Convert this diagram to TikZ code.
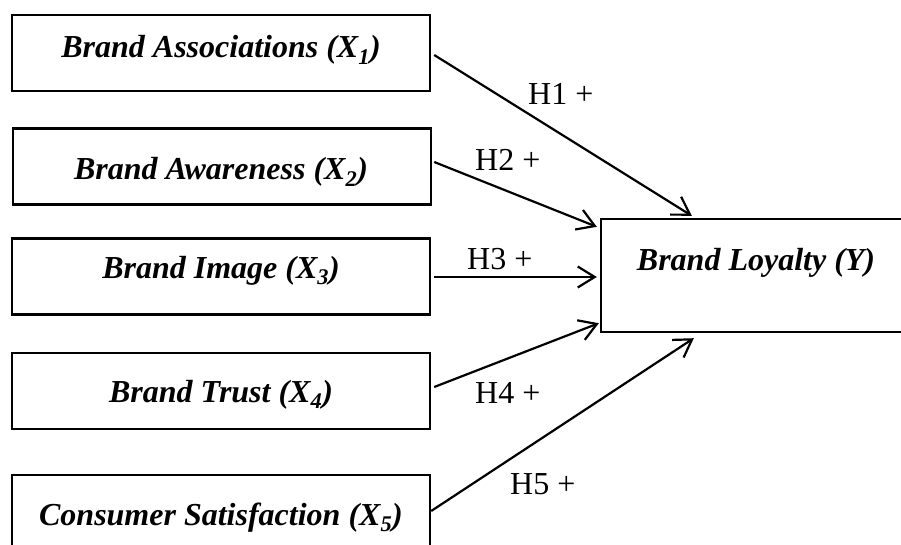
\documentclass[tikz,border=0pt]{standalone}
\usepackage{fontspec}
\setmainfont{Liberation Serif}
\usetikzlibrary{arrows.meta,calc}
\tikzset{
  box/.style={draw, line width=2.4pt, rectangle, inner sep=0pt, minimum width=418pt, minimum height=76pt},
  bigbox/.style={draw, line width=2.4pt, rectangle, inner sep=0pt, minimum width=310pt, minimum height=113pt},
  boxtext/.style={anchor=base, inner sep=0pt, font=\fontsize{32}{36}\selectfont\bfseries\itshape},
  hlabel/.style={anchor=base west, inner sep=0pt, font=\fontsize{32}{36}\selectfont},
  link/.style={line width=2.2pt, -{Straight Barb[length=17pt,width=21pt,line width=2.2pt]}}
}
\begin{document}
\begin{tikzpicture}[x=1pt,y=-1pt]
\clip (0,0) rectangle (901,545);
\fill[white] (0,0) rectangle (901,545);
% predictor boxes
\node[box] (b1) at (221,53) {};
\node[box] (b2) at (222,166.5) {};
\node[box] (b3) at (221,276.5) {};
\node[box] (b4) at (221,391) {};
\node[box] (b5) at (221,513) {};
\node[boxtext] (t1) at (221,58) {Brand Associations (X\textsubscript{1})};
\node[boxtext] (t2) at (221,180) {Brand Awareness (X\textsubscript{2})};
\node[boxtext] (t3) at (221,278) {Brand Image (X\textsubscript{3})};
\node[boxtext] (t4) at (221,402) {Brand Trust (X\textsubscript{4})};
\node[boxtext] (t5) at (221,525) {Consumer Satisfaction (X\textsubscript{5})};
% outcome box
\node[bigbox] (L) at (756,275.5) {};
\node[boxtext] (tL) at (756,270) {Brand Loyalty (Y)};
% end points
\coordinate (s1) at ($(b1.east)+(3,2)$);
\coordinate (s2) at ($(b2.east)+(2,-4.5)$);
\coordinate (s3) at ($(b3.east)+(3,0.5)$);
\coordinate (s4) at ($(b4.east)+(3,-4)$);
\coordinate (s5) at ($(b5.east)+(0,-2)$);
\coordinate (e1) at ($(L.north west)+(92,-2)$);
\coordinate (e2) at ($(L.north west)+(-3,9)$);
\coordinate (e3) at ($(L.west)+(-3,1.5)$);
\coordinate (e4) at ($(L.south west)+(-1,-10)$);
\coordinate (e5) at ($(L.south west)+(94,5)$);
\draw[link] (s1) -- (e1);
\draw[link] (s2) -- (e2);
\draw[link] (s3) -- (e3);
\draw[link] (s4) -- (e4);
\draw[link] (s5) -- (e5);
% labels
\node[hlabel] (h1) at (528,105) {H1 +};
\node[hlabel] (h2) at (475,171) {H2 +};
\node[hlabel] (h3) at (467,269) {H3 +};
\node[hlabel] (h4) at (475,403) {H4 +};
\node[hlabel] (h5) at (510,494) {H5 +};
\end{tikzpicture}
\end{document}
